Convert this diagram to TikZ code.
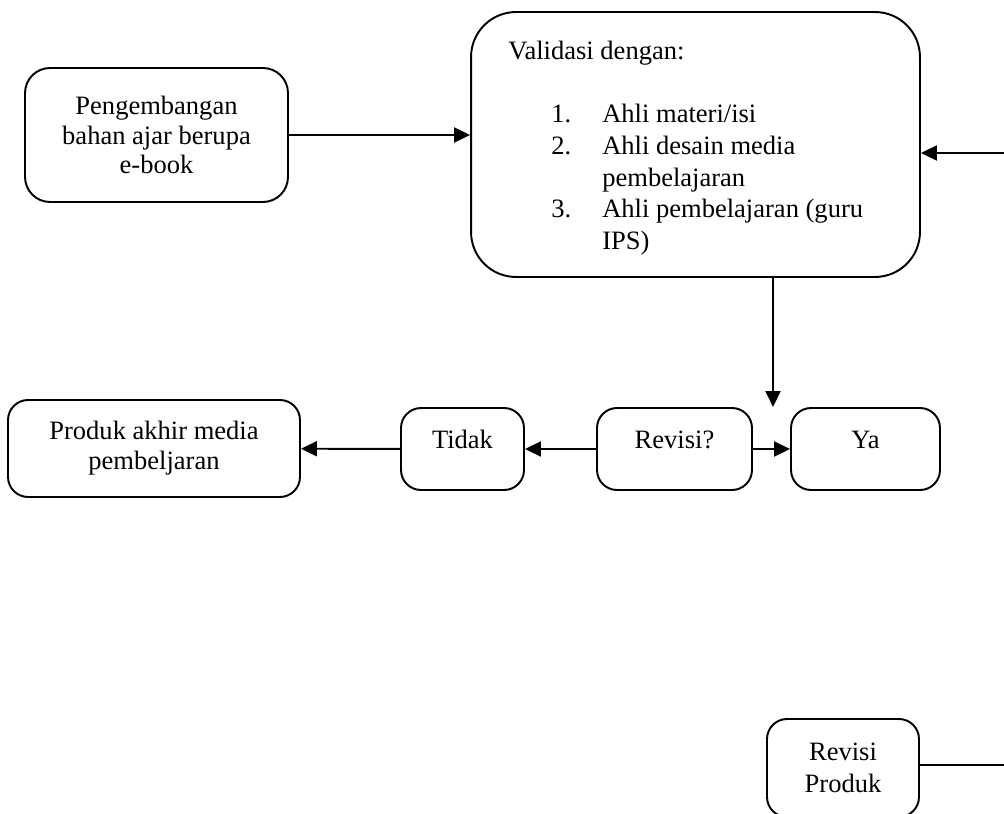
\documentclass[tikz,border=0pt]{standalone}
\usepackage{fontspec}
\setmainfont{Liberation Serif}
\usetikzlibrary{arrows.meta}
\begin{document}
\begin{tikzpicture}[x=0.02cm,y=-0.02cm,
    box/.style={draw,line width=1.1pt,rounded corners=0.4cm,align=center,
      font=\fontsize{15.1}{16.6}\selectfont},
    kecil/.style={box,minimum height=1.64cm,text height=0.3cm,text depth=0.34cm},
    arr/.style={line width=1.1pt,-{Triangle[length=3.2mm,width=3mm]}}]
            \useasboundingbox (0,0) rectangle (1004,814);
            \clip (0,0) rectangle (1004,814);
            \node [box,rounded corners=0.5cm,minimum width=5.26cm,minimum height=2.68cm] (dev) at (156.5,135)
                {Pengembangan\\bahan ajar berupa\\e-book};
            \node [box,rounded corners=0.9cm,minimum width=8.98cm,minimum height=5.3cm] (val) at (695.5,144.5) {};
            \node [anchor=north west,inner sep=0pt,font=\fontsize{15.1}{18.1}\selectfont] (valtext) at (508,37)
                {\begin{tabular}{@{}p{1.88cm}@{}l@{}}
                 \multicolumn{2}{@{}l}{Validasi dengan:}\\[0.62cm]
                 \hspace*{0.86cm}1. & Ahli materi/isi\\
                 \hspace*{0.86cm}2. & Ahli desain media\\
                  & pembelajaran\\
                 \hspace*{0.86cm}3. & Ahli pembelajaran (guru\\
                  & IPS)
                 \end{tabular}};
            \node [box,font=\fontsize{15.1}{17.2}\selectfont,minimum width=5.84cm,minimum height=1.94cm] (akhir) at (154,448.5)
                {Produk akhir media\\pembeljaran};
            \node [kecil,minimum width=2.46cm] (tidak) at (462.5,449) {Tidak};
            \node [kecil,minimum width=3.1cm] (revisi) at (674.5,449) {Revisi?};
            \node [kecil,minimum width=2.98cm] (ya) at (865.5,449) {Ya};
            \node [box,font=\fontsize{15.1}{18}\selectfont,minimum width=3.04cm,minimum height=1.96cm] (rprod) at (843,768)
                {Revisi\\Produk};
            \coordinate (kanan) at (1004,153);
            \coordinate (turun) at (773,407);
            \coordinate (bawah) at (1004,765);
            \draw [arr] (dev.east) -- (dev.east -| val.west);
            \draw [arr] (kanan) -- (kanan -| val.east);
            \draw [arr] (val.south -| turun) -- (turun);
            \draw [arr] (revisi) -- (tidak);
            \draw [arr] (tidak) -- (akhir);
            \draw [arr] (revisi) -- (ya);
            \draw [line width=1.1pt] (rprod.east |- bawah) -- (bawah);
        \end{tikzpicture}
\end{document}
